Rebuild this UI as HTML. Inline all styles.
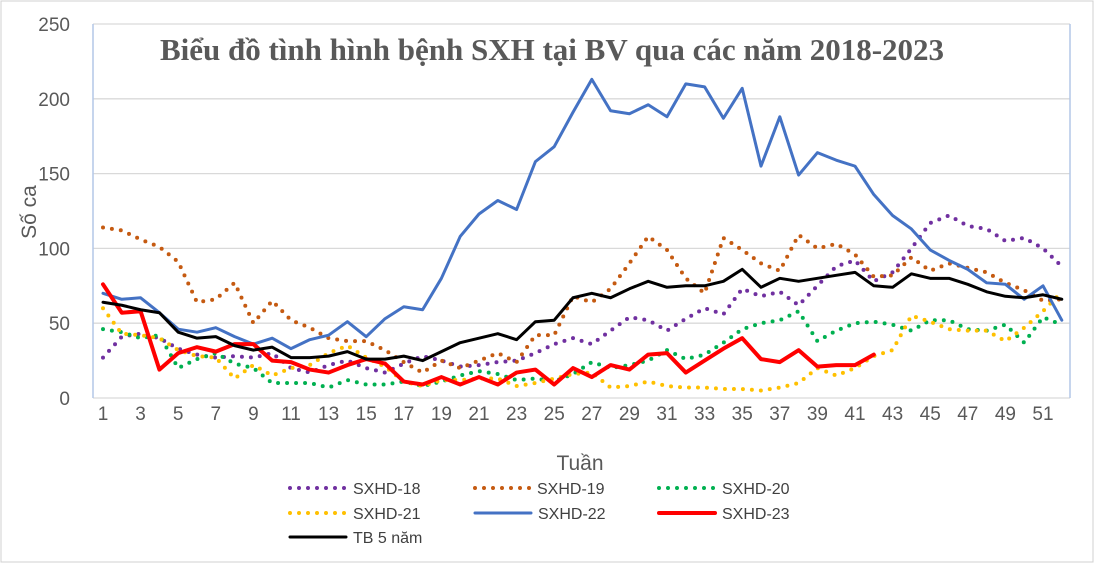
<!DOCTYPE html>
<html><head><meta charset="utf-8"><style>
body{margin:0;background:#fff}
svg{display:block;font-family:"Liberation Sans",sans-serif}
</style></head><body>
<svg id="chart" width="1095" height="564">
<rect x="1" y="1" width="1092" height="561" fill="#fff" stroke="#d0d0d0"/>
<g id="grid"></g><g id="series"></g><g id="axes"></g>
<text x="552" y="60" text-anchor="middle" font-family="Liberation Serif,serif" font-weight="bold" font-size="31" fill="#595959">Biểu đồ tình hình bệnh SXH tại BV qua các năm 2018-2023</text>
<text transform="translate(36,212) rotate(-90)" text-anchor="middle" font-size="21" fill="#595959">Số ca</text>
<text x="580" y="470" text-anchor="middle" font-size="21" fill="#595959">Tuần</text>
<g id="legend"></g>
</svg>
<script>
const weeks=[];for(let i=1;i<=52;i++)weeks.push(i);
const yTicks=[0,50,100,150,200,250];
const s18=[27,41,43,40,33,29,27,28,27,30,20,17,22,25,20,17,23,28,25,21,22,24,25,30,36,40,36,45,54,52,45,53,60,56,73,68,71,62,75,88,92,78,84,100,117,122,115,113,105,107,100,88];
const s19=[114,112,106,101,91,64,66,77,50,65,52,47,40,38,38,32,24,17,25,20,25,30,24,42,42,68,64,73,90,108,99,80,70,107,99,90,85,109,100,103,96,81,82,94,85,90,87,84,77,72,65,66];
const s20=[46,44,40,42,20,26,30,23,20,10,10,10,7,12,9,9,11,8,11,15,18,16,12,13,11,16,24,20,22,25,32,26,29,37,46,50,52,58,38,45,50,51,49,45,52,52,46,45,49,37,54,49];
const s21=[60,43,42,40,32,28,27,13,22,15,20,22,30,35,27,21,11,8,12,12,13,13,8,10,13,16,17,7,8,11,8,7,7,6,6,5,7,10,20,15,20,28,32,55,51,46,45,45,38,47,58,71];
const s22=[70,66,67,57,46,44,47,41,36,40,33,39,42,51,41,53,61,59,80,108,123,132,126,158,168,191,213,192,190,196,188,210,208,187,207,155,188,149,164,159,155,136,122,113,99,92,86,77,76,66,75,52];
const s23=[76,57,58,19,30,34,31,36,36,25,24,19,17,22,26,23,11,9,14,9,14,9,17,19,9,20,14,22,19,29,30,17,25,33,40,26,24,32,21,22,22,29];
const tb=[64,62,59,57,44,40,41,35,32,34,27,27,28,31,26,26,28,25,31,37,40,43,39,51,52,67,70,67,73,78,74,75,75,78,86,74,80,78,80,82,84,75,74,83,80,80,76,71,68,67,69,66];
const NS="http://www.w3.org/2000/svg";
const X=w=>103+(w-1)*18.8, Y=v=>398-v*1.496;
function mk(t,a,p){const e=document.createElementNS(NS,t);for(const k in a)e.setAttribute(k,a[k]);p.appendChild(e);return e;}
const grid=document.getElementById('grid'),axes=document.getElementById('axes'),ser=document.getElementById('series'),leg=document.getElementById('legend');
yTicks.forEach(v=>{
 const l=mk('line',{x1:93,x2:1070,y1:Y(v),y2:Y(v),stroke:'#d9d9d9','stroke-width':1.3},grid);
 
 
 const t=mk('text',{x:70,y:Y(v)+7,'text-anchor':'end','font-size':19,fill:'#595959'},axes);t.textContent=v;
 
 
});
const ax=mk('line',{x1:93,x2:93,y1:24,y2:398,stroke:'#b4c7e7','stroke-width':1.5},axes);


const rb=mk('line',{x1:1070,x2:1070,y1:24,y2:398,stroke:'#b4c7e7','stroke-width':1.5},axes);


weeks.forEach(w=>{if(w%2===1){const t=mk('text',{x:X(w),y:420,'text-anchor':'middle','font-size':19,fill:'#595959'},axes);t.textContent=w;
 
 }});
const defs=[
 {d:s18,c:'#7030a0',dot:true,n:'SXHD-18'},
 {d:s19,c:'#c55a11',dot:true,n:'SXHD-19'},
 {d:s20,c:'#00b050',dot:true,n:'SXHD-20'},
 {d:s21,c:'#ffc000',dot:true,n:'SXHD-21'},
 {d:s22,c:'#4472c4',dot:false,w:3,n:'SXHD-22'},
 {d:s23,c:'#ff0000',dot:false,w:4,n:'SXHD-23'},
 {d:tb,c:'#000000',dot:false,w:3,n:'TB 5 năm'}];
defs.forEach(s=>{
 const pts=s.d.map((v,i)=>X(weeks[i])+','+Y(v)).join(' ');
 const a={points:pts,fill:'none',stroke:s.c,'stroke-linejoin':'round','stroke-linecap':'round'};
 if(s.dot){a['stroke-width']=4;a['stroke-dasharray']='0 9';}else a['stroke-width']=s.w;
 const p=mk('polyline',a,ser);
 
 
});
const lp=[[288,488],[473,488],[657,488],[288,513],[473,513],[657,513],[288,537]];
defs.forEach((s,i)=>{
 const [lx,ly]=lp[i];
 const g=mk('g',{},leg);
 
 
 const a={x1:lx+2,x2:lx+58,y1:ly,y2:ly,stroke:s.c,'stroke-linecap':'round'};
 if(s.dot){a['stroke-width']=4;a['stroke-dasharray']='0 9';}else a['stroke-width']=s.w;
 mk('line',a,g);
 const t=mk('text',{x:lx+(i===1?64:65),y:ly+6,'font-size':16,fill:'#404040'},g);t.textContent=s.n;
});
</script>
</body></html>
